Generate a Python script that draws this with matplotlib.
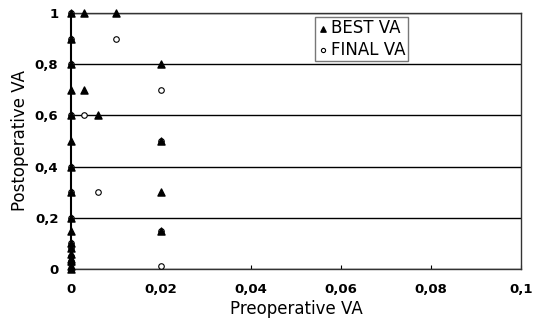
import matplotlib
matplotlib.use("Agg")
import matplotlib.pyplot as plt
from matplotlib.ticker import FuncFormatter

best_pre = [0, 0, 0, 0, 0, 0, 0, 0, 0, 0, 0, 0, 0, 0, 0, 0, 0,
            0.003, 0.003, 0.006, 0.01, 0.02, 0.02, 0.02, 0.02]
best_post = [1.0, 0.9, 0.8, 0.7, 0.6, 0.5, 0.4, 0.3, 0.2, 0.15, 0.1, 0.08, 0.06, 0.04, 0.03, 0.01, 0.0,
             1.0, 0.7, 0.6, 1.0, 0.8, 0.5, 0.3, 0.15]
final_pre = [0, 0, 0, 0, 0, 0, 0, 0, 0, 0, 0, 0, 0,
             0.003, 0.006, 0.01, 0.02, 0.02, 0.02, 0.02]
final_post = [1.0, 0.9, 0.8, 0.6, 0.4, 0.3, 0.2, 0.1, 0.08, 0.05, 0.03, 0.02, 0.0,
              0.6, 0.3, 0.9, 0.7, 0.5, 0.15, 0.01]
x_ticks = [0, 0.02, 0.04, 0.06, 0.08, 0.1]
y_ticks = [0, 0.2, 0.4, 0.6, 0.8, 1.0]

fig = plt.figure(figsize=(5.37, 3.24), dpi=100)
ax = fig.add_axes([0.1322, 0.170, 0.838, 0.790])

ax.scatter(final_pre, final_post, marker='o', s=16, facecolors='white',
           edgecolors='black', linewidths=0.8, clip_on=False, zorder=3, label='FINAL VA')
ax.scatter(best_pre, best_post, marker='^', s=26, color='black',
           clip_on=False, zorder=4, label='BEST VA')

ax.set_xlim(0, 0.1)
ax.set_ylim(0, 1)
ax.set_xticks(x_ticks)
ax.set_yticks(y_ticks)

def fmt(v, pos):
    s = f"{v:.2f}".rstrip('0').rstrip('.')
    return s.replace('.', ',')

ax.xaxis.set_major_formatter(FuncFormatter(fmt))
ax.yaxis.set_major_formatter(FuncFormatter(fmt))
for lab in ax.get_xticklabels() + ax.get_yticklabels():
    lab.set_fontweight('bold')
    lab.set_fontsize(9.5)
ax.tick_params(axis='x', direction='in', length=3, pad=10)
ax.tick_params(axis='y', length=0, pad=9)

ax.yaxis.grid(True, color='black', linewidth=1.0)
ax.set_axisbelow(True)
for sp in ax.spines.values():
    sp.set_color('#333333')
    sp.set_linewidth(1.0)
ax.spines['left'].set_color('black')
ax.spines['left'].set_linewidth(1.5)

ax.set_xlabel('Preoperative VA', fontsize=12, labelpad=3)
ax.set_ylabel('Postoperative VA', fontsize=12, labelpad=4)

h, l = ax.get_legend_handles_labels()
leg = ax.legend(h[::-1], l[::-1], loc='upper left', bbox_to_anchor=(0.542, 0.985),
                frameon=True, fancybox=False, edgecolor='#555555', fontsize=12,
                handletextpad=0.1, handlelength=0.7, borderpad=0.15, labelspacing=0.2,
                borderaxespad=0, markerscale=0.75)
leg.get_frame().set_linewidth(1.0)

fig.savefig('out.png', dpi=100)
